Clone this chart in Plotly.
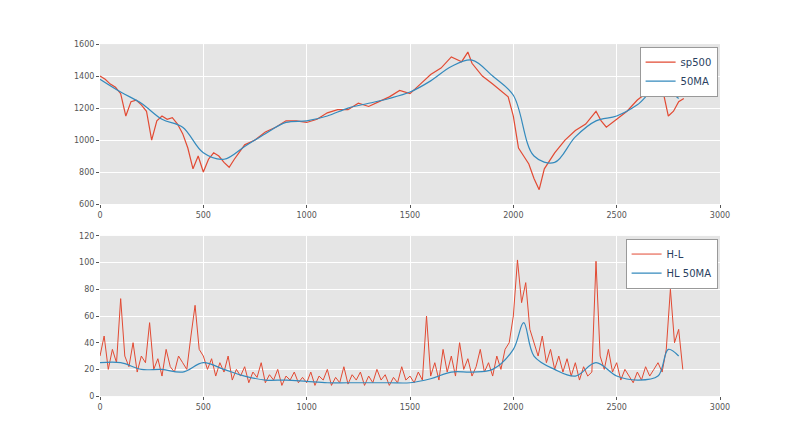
import plotly.graph_objects as go
from plotly.subplots import make_subplots

sp_x = [0, 25, 50, 75, 100, 125, 150, 175, 200, 225, 250, 275, 300, 325, 350, 375, 400, 425, 450, 475,
        500, 525, 550, 575, 600, 625, 650, 700, 750, 800, 850, 900, 950, 1000, 1050, 1100, 1150, 1200,
        1250, 1300, 1350, 1400, 1450, 1500, 1550, 1600, 1650, 1700, 1750, 1780, 1800, 1850, 1900, 1950,
        1975, 2000, 2025, 2050, 2075, 2100, 2125, 2150, 2200, 2250, 2300, 2350, 2400, 2425, 2450, 2500,
        2550, 2600, 2650, 2700, 2725, 2750, 2775, 2800, 2825]
sp500 = [1400, 1380, 1350, 1330, 1290, 1150, 1240, 1250, 1220, 1180, 1000, 1120, 1150, 1130, 1140, 1100,
         1040, 950, 820, 900, 800, 880, 920, 900, 860, 830, 880, 970, 1000, 1050, 1080, 1120, 1120, 1110,
         1130, 1170, 1190, 1190, 1230, 1210, 1240, 1270, 1310, 1290, 1350, 1410, 1450, 1520, 1490, 1550,
         1480, 1400, 1350, 1300, 1270, 1150, 950, 900, 850, 760, 690, 820, 920, 1000, 1060, 1100, 1180,
         1120, 1080, 1130, 1180, 1250, 1300, 1340, 1300, 1150, 1180, 1240, 1260]
ma_x = list(range(0, 2900, 100))
ma50 = [1380, 1300, 1230, 1130, 1080, 920, 880, 960, 1040, 1110, 1120, 1150, 1200, 1230, 1260, 1300,
        1370, 1460, 1500, 1400, 1280, 900, 860, 1020, 1120, 1150, 1220, 1330, 1260]

hl_x = list(range(0, 2840, 20))
hl = [30, 45, 20, 35, 25, 73, 30, 22, 40, 18, 30, 25, 55, 20, 28, 15, 35, 22, 18, 30, 25, 20, 45, 68, 35,
      30, 20, 28, 15, 25, 18, 30, 12, 20, 15, 22, 10, 18, 14, 25, 10, 16, 12, 20, 8, 15, 12, 18, 10, 14,
      10, 18, 8, 15, 12, 20, 8, 14, 10, 22, 9, 16, 12, 18, 8, 15, 10, 20, 12, 16, 8, 14, 10, 22, 12,
      15, 10, 18, 12, 60, 15, 25, 12, 35, 18, 30, 15, 40, 20, 28, 15, 22, 35, 18, 25, 15, 30, 20, 35, 40,
      60, 102, 70, 85, 50, 40, 30, 45, 25, 35, 20, 30, 18, 28, 15, 25, 12, 22, 15, 18, 101, 30, 20, 35, 18,
      25, 12, 20, 15, 10, 18, 12, 22, 15, 20, 25, 18, 35, 80, 40, 50, 20]
hlma_x = [0, 100, 200, 300, 400, 500, 600, 700, 800, 900, 1000, 1100, 1200, 1300, 1400, 1500, 1600,
          1700, 1800, 1900, 2000, 2050, 2100, 2200, 2300, 2400, 2500, 2600, 2700, 2750, 2800]
hl_ma = [25, 25, 20, 20, 18, 25, 20, 15, 12, 12, 11, 10, 10, 10, 10, 10, 13, 18, 18, 20, 35, 55, 30,
         20, 15, 25, 15, 12, 15, 35, 30]

RED, BLUE = "#E24A33", "#348ABD"
fig = make_subplots(rows=2, cols=1)
fig.add_trace(go.Scatter(x=sp_x, y=sp500, name="sp500", line=dict(color=RED, width=1.2), legend="legend"), 1, 1)
fig.add_trace(go.Scatter(x=ma_x, y=ma50, name="50MA", line=dict(color=BLUE, width=1.2, shape="spline"), legend="legend"), 1, 1)
fig.add_trace(go.Scatter(x=hl_x, y=hl, name="H-L", line=dict(color=RED, width=1), legend="legend2"), 2, 1)
fig.add_trace(go.Scatter(x=hlma_x, y=hl_ma, name="HL 50MA", line=dict(color=BLUE, width=1.2, shape="spline"), legend="legend2"), 2, 1)

ax = dict(showgrid=True, gridcolor="white", gridwidth=1, zeroline=False, showline=False, automargin=False,
          ticks="outside", ticklen=3, tickcolor="#555", tickfont=dict(size=8, color="#555"))
fig.update_xaxes(ax, range=[0, 3000], dtick=500)
fig.update_layout(
    width=800, height=440, margin=dict(l=0, r=0, t=0, b=0, autoexpand=False),
    paper_bgcolor="white", plot_bgcolor="#E5E5E5",
    font=dict(family="DejaVu Sans"),
    xaxis=dict(domain=[0.115, 0.89]), xaxis2=dict(domain=[0.115, 0.89]),
    yaxis=dict(ax, domain=[0.5545, 0.918], range=[600, 1600], dtick=200),
    yaxis2=dict(ax, domain=[0.118, 0.482], range=[0, 120], dtick=20),
    legend=dict(x=0.887, y=0.912, xanchor="right", yanchor="top", bgcolor="white", itemwidth=30,
                bordercolor="#999", borderwidth=1, font=dict(size=10), tracegroupgap=0),
    legend2=dict(x=0.887, y=0.476, xanchor="right", yanchor="top", bgcolor="white", itemwidth=30,
                 bordercolor="#999", borderwidth=1, font=dict(size=10), tracegroupgap=0),
)
fig.write_html("out.html")
